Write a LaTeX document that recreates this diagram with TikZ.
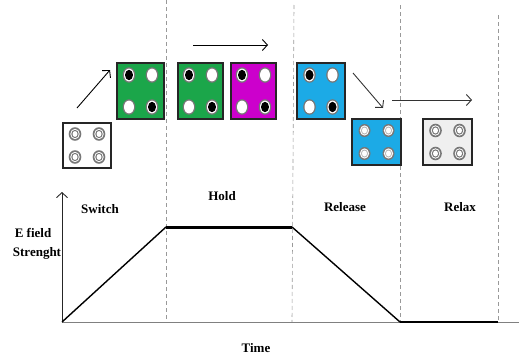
\documentclass[tikz,border=0pt]{standalone}
\usepackage{fontspec}
\setmainfont{Liberation Serif}
\usetikzlibrary{arrows.meta}
\definecolor{bgreen}{HTML}{1BA64A}
\definecolor{bmag}{HTML}{CC00CC}
\definecolor{bblue}{HTML}{1CAAE6}
\definecolor{bgray}{HTML}{EFEFEF}
\definecolor{ringgray}{HTML}{777777}
\definecolor{lightring}{HTML}{B0B0B0}
\newcommand\fullhole[2]{%
  \fill[ringgray] #1 ellipse (6.3pt and 7.8pt);
  \fill[white] #1 ellipse (5pt and 6.4pt);
  \fill[#2] #1 ellipse (4pt and 5.2pt);}
\newcommand\ringhole[1]{%
  \fill[ringgray] #1 ellipse (6.3pt and 6.8pt);
  \fill[white] #1 ellipse (4.7pt and 5.2pt);
  \fill[ringgray] #1 ellipse (3.7pt and 4.2pt);
  \fill[white] #1 ellipse (2.5pt and 2.9pt);}
\newcommand\lighthole[1]{%
  \fill[ringgray] #1 ellipse (6pt and 6.5pt);
  \fill[white] #1 ellipse (4.6pt and 5.1pt);
  \fill[lightring] #1 ellipse (3.5pt and 4pt);
  \fill[white] #1 ellipse (2.6pt and 3pt);}
% tall box with black/white/white/black holes
\newcommand\tallcell[1]{%
  \fullhole{([shift={(-11.5,-16)}]#1.center)}{black}
  \fullhole{([shift={(11.5,-16)}]#1.center)}{white}
  \fullhole{([shift={(-11.5,16)}]#1.center)}{white}
  \fullhole{([shift={(11.5,16)}]#1.center)}{black}}
\newcommand\shortcell[2]{%
  \foreach \dx in {-12,12}{\foreach \dy in {-11.5,11.5}{%
    #2{([shift={(\dx,\dy)}]#1.center)}}}}
\tikzset{
  cellbox/.style={draw=black!85, line width=1.1pt, inner sep=0pt},
  tallbox/.style={cellbox, minimum height=56pt},
  shortbox/.style={cellbox, minimum width=48pt, minimum height=45pt},
  phase/.style={font=\bfseries\fontsize{13}{15}\selectfont, inner sep=0pt},
  divider/.style={gray!80, dashed, dash pattern=on 4pt off 3pt, line width=0.6pt},
  moveArrow/.style={line width=0.9pt, -{Straight Barb[length=5pt,width=11pt]}},
  curve/.style={line width=1.4pt, black},
  thickcurve/.style={line width=3pt, black}
}
\begin{document}
\begin{tikzpicture}[x=1pt,y=-1pt]
\useasboundingbox (0,0) rectangle (519,356);
% dividers
\coordinate (d1t) at (166,0);   \coordinate (d1b) at (166,322);
\coordinate (d2t) at (294,5);   \coordinate (d2b) at (292,322);
\coordinate (d3t) at (400,5);   \coordinate (d3b) at (400,322);
\coordinate (d4t) at (498,15);  \coordinate (d4b) at (498,322);
\draw[divider] (d1t) -- (d1b);
\draw[divider] (d2t) -- (d2b);
\draw[divider] (d3t) -- (d3b);
\draw[divider] (d4t) -- (d4b);
% boxes
\node[shortbox, fill=white] (w1) at (87,145.5) {};
\node[tallbox, minimum width=47pt, fill=bgreen] (g1) at (140.5,91) {};
\node[tallbox, minimum width=45pt, fill=bgreen] (g2) at (200.5,91) {};
\node[tallbox, minimum width=45pt, fill=bmag] (m1) at (253.5,91) {};
\node[tallbox, minimum width=48pt, fill=bblue] (b1) at (321,91) {};
\node[shortbox, minimum width=49pt, minimum height=46pt, fill=bblue] (b2) at (376.5,142) {};
\node[shortbox, minimum width=49pt, minimum height=46pt, fill=bgray] (r1) at (447.5,142) {};
\shortcell{w1}{\ringhole}
\tallcell{g1}
\tallcell{g2}
\tallcell{m1}
\tallcell{b1}
\shortcell{b2}{\lighthole}
\shortcell{r1}{\ringhole}
% movement arrows
\coordinate (a1s) at (77,108);  \coordinate (a1e) at (110,70);
\coordinate (a2s) at (193,45);  \coordinate (a2e) at (268,45);
\coordinate (a3s) at (353,73);  \coordinate (a3e) at (383,108);
\coordinate (a4s) at (392,100); \coordinate (a4e) at (472,100);
\draw[moveArrow] (a1s) -- (a1e);
\draw[moveArrow] (a2s) -- (a2e);
\draw[moveArrow, black!80] (a3s) -- (a3e);
\draw[moveArrow, black!80] (a4s) -- (a4e);
% axes
\coordinate (O) at (62,322);
\coordinate (Yt) at (62,192);
\coordinate (Xe) at (523,322);
\draw[gray, line width=1pt] (O) -- (Xe);
\draw[black!85, line width=0.9pt, -{Straight Barb[length=5pt,width=11pt]}] (O) -- (Yt);
% field curve
\coordinate (P1) at (166,227);
\coordinate (P2) at (292,227);
\coordinate (P3) at (400,322);
\coordinate (P4) at (498,322);
\draw[curve] (O) -- (P1);
\draw[thickcurve] (P1) -- (P2);
\draw[curve] (P2) -- (P3);
\draw[line width=2.6pt] (P3) -- (P4);
% labels
\node[phase] (lsw) at (100,209) {Switch};
\node[phase] (lho) at (222,196) {Hold};
\node[phase] (lre) at (345,207) {Release};
\node[phase] (lrx) at (460,207) {Relax};
\node[phase] (lef) at (33,233) {E field};
\node[phase] (lst) at (37,253) {Strenght};
\node[phase] (lti) at (256,348) {Time};
\end{tikzpicture}
\end{document}
